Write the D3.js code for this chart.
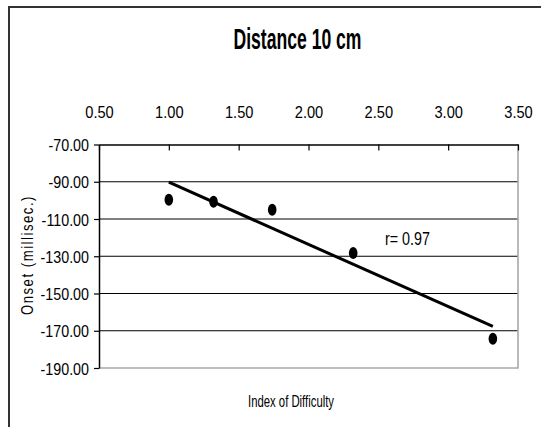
<!DOCTYPE html>
<html>
<head>
<meta charset="utf-8">
<script src="https://cdn.jsdelivr.net/npm/d3@7"></script>
<style>
  html, body { margin: 0; padding: 0; background: #fff; }
  svg { display: block; }
  text { font-family: "Liberation Sans", Arial, sans-serif; fill: #000; }
</style>
</head>
<body>
<svg id="chart" width="541" height="427"></svg>
<script>
// ---- data ----
const indexOfDifficulty = [1.00, 1.32, 1.74, 2.32, 3.32];
const onsetMs = [-99.7, -100.8, -105.0, -128.3, -174.3];
const xTicks = [0.5, 1.0, 1.5, 2.0, 2.5, 3.0, 3.5];
const yTicks = [-70, -90, -110, -130, -150, -170, -190];
const titleText = "Distance 10 cm";
const xTitle = "Index of Difficulty";
const yTitle = "Onset (millisec.)";
const rLabel = "r= 0.97";

const svg = d3.select("#chart");
const W = 541, H = 427;
svg.append("rect").attr("width", W).attr("height", H).attr("fill", "#fff");

// outer chart border (extends off right/bottom)
svg.append("rect").attr("x", 9).attr("y", 7).attr("width", 700).attr("height", 600)
  .attr("fill", "none").attr("stroke", "#333").attr("stroke-width", 2);

const x = d3.scaleLinear().domain([0.5, 3.5]).range([99, 518]);
const y = d3.scaleLinear().domain([-70, -190]).range([144.5, 368]);
const fmt = d => d3.format(".2f")(d).replace("\u2212", "-");

function squeeze(sel, factor) {
  sel.each(function() {
    const len = this.getComputedTextLength();
    d3.select(this).attr("textLength", len * factor).attr("lengthAdjust", "spacingAndGlyphs");
  });
}

// gridlines
svg.append("g").selectAll("line").data(yTicks.slice(1, -1)).join("line")
  .attr("x1", x(0.5)).attr("x2", x(3.5))
  .attr("y1", d => y(d)).attr("y2", d => y(d))
  .attr("stroke", "#000").attr("stroke-width", 1.2);

// right & bottom plot borders (gray)
svg.append("path")
  .attr("d", `M${x(3.5)},${y(-70)}V${y(-190)}H${x(0.5)}`)
  .attr("fill", "none").attr("stroke", "#a8a8a8").attr("stroke-width", 1.6);

// top x axis, ticks inward
const gx = svg.append("g").attr("transform", `translate(0,${y(-70)})`)
  .call(d3.axisTop(x).tickValues(xTicks).tickFormat(fmt).tickSizeInner(-6).tickSizeOuter(0).tickPadding(26));
gx.select(".domain").attr("stroke", "#000").attr("stroke-width", 1.5);
gx.selectAll(".tick line").attr("stroke", "#000").attr("stroke-width", 1.2);
gx.selectAll(".tick text").attr("font-size", 17).attr("font-family", "Liberation Sans, Arial, sans-serif").attr("fill", "#000")
  .attr("y", 0).attr("dy", -26.5).call(squeeze, 0.86);

// left y axis
const gy = svg.append("g").attr("transform", `translate(${x(0.5)},0)`)
  .call(d3.axisLeft(y).tickValues(yTicks).tickFormat(fmt).tickSize(5).tickSizeOuter(0).tickPadding(5));
gy.select(".domain").attr("stroke", "#000").attr("stroke-width", 1.5);
gy.selectAll(".tick line").attr("stroke", "#000").attr("stroke-width", 1.2);
gy.selectAll(".tick text").attr("font-size", 17).attr("font-family", "Liberation Sans, Arial, sans-serif").attr("fill", "#000")
  .attr("x", -10).attr("dy", "0.36em").call(squeeze, 0.84);

// regression line (least squares from data)
const n = indexOfDifficulty.length;
const mx = d3.mean(indexOfDifficulty), my = d3.mean(onsetMs);
let sxy = 0, sxx = 0;
for (let i = 0; i < n; i++) {
  sxy += (indexOfDifficulty[i] - mx) * (onsetMs[i] - my);
  sxx += (indexOfDifficulty[i] - mx) ** 2;
}
const slope = sxy / sxx, intercept = my - slope * mx;
const xExt = d3.extent(indexOfDifficulty);
svg.append("line")
  .attr("x1", x(xExt[0])).attr("y1", y(slope * xExt[0] + intercept))
  .attr("x2", x(xExt[1])).attr("y2", y(slope * xExt[1] + intercept))
  .attr("stroke", "#000").attr("stroke-width", 3);

// points
svg.append("g").selectAll("ellipse").data(indexOfDifficulty).join("ellipse")
  .attr("cx", d => x(d)).attr("cy", (d, i) => y(onsetMs[i]))
  .attr("rx", 4.3).attr("ry", 6).attr("fill", "#000");

// title
svg.append("text").attr("x", 297.5).attr("y", 49).attr("text-anchor", "middle")
  .attr("font-size", 29).attr("font-weight", "bold")
  .attr("textLength", 128).attr("lengthAdjust", "spacingAndGlyphs").text(titleText);

// r label
svg.append("text").attr("x", 385).attr("y", 245).attr("font-size", 18)
  .attr("textLength", 45).attr("lengthAdjust", "spacingAndGlyphs").text(rLabel);

// x title
svg.append("text").attr("x", 291).attr("y", 407).attr("text-anchor", "middle").attr("font-size", 17)
  .attr("textLength", 86).attr("lengthAdjust", "spacingAndGlyphs").text(xTitle);

// y title
svg.append("text").attr("transform", "translate(33,255) rotate(-90)").attr("text-anchor", "middle")
  .attr("font-size", 17).attr("letter-spacing", 2)
  .attr("textLength", 120).attr("lengthAdjust", "spacingAndGlyphs").text(yTitle);
</script>
</body>
</html>
